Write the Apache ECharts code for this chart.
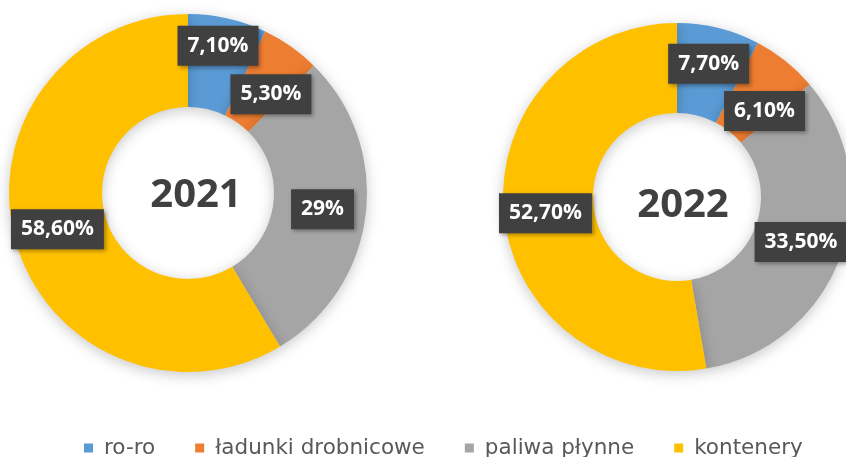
<!DOCTYPE html>
<html>
<head>
<meta charset="utf-8">
<script src="https://cdn.jsdelivr.net/npm/echarts@6/dist/echarts.min.js"></script>
<style>
html,body{margin:0;padding:0;background:#fff;}
#c{width:846px;height:457px;}
</style>
</head>
<body>
<div id="c"></div>
<script>
const categories = ['ro-ro', 'ładunki drobnicowe', 'paliwa płynne', 'kontenery'];
const colors = ['#5B9BD5', '#ED7D31', '#A5A5A5', '#FFC000'];
const years = ['2021', '2022'];
const values2021 = [7.1, 5.3, 29, 58.6];
const values2022 = [7.7, 6.1, 33.5, 52.7];

function fmt(v) {
  return (Math.round(v) === v ? String(v) : v.toFixed(2).replace('.', ',')) + '%';
}

function build(vals) {
  return categories.map((name, i) => ({ name: name, value: vals[i], itemStyle: { color: colors[i] } }));
}

const labelStyle = {
  show: true,
  position: 'inside',
  formatter: p => fmt(p.value),
  color: '#ffffff',
  fontFamily: 'Open Sans',
  fontWeight: 'bold',
  fontSize: 21,
  lineHeight: 22,
  backgroundColor: '#404040',
  padding: [9, 10, 9, 10],
  shadowColor: 'rgba(0,0,0,0.35)',
  shadowBlur: 4,
  shadowOffsetX: 2,
  shadowOffsetY: 2
};

// nudges for the two small adjacent slices so their boxes do not collide
function nudge(params) {
  const up = params.seriesIndex === 0 ? [-15, 12] : [-5, 17];
  if (params.dataIndex === 0) return { dy: up[0], hideOverlap: false };
  if (params.dataIndex === 1) return { dy: up[1], dx: 5, hideOverlap: false };
  if (params.dataIndex === 3) return { dy: params.seriesIndex === 1 ? 5 : 0, hideOverlap: false };
  return { hideOverlap: false };
}

const centerText = (txt, x, y) => ({
  type: 'text', x: x, y: y, z: 10,
  style: {
    text: txt, fontSize: 40, fontWeight: 'bold', fontFamily: 'Open Sans', fill: '#404040',
    align: 'center', verticalAlign: 'middle', textAlign: 'center', textVerticalAlign: 'middle'
  }
});

const chart = echarts.init(document.getElementById('c'), null, { renderer: 'canvas' });
chart.setOption({
  animation: false,
  backgroundColor: '#ffffff',
  legend: {
    data: categories,
    left: 79,
    top: 432,
    icon: 'rect',
    itemWidth: 9,
    itemHeight: 9,
    itemGap: 40,
    textStyle: { color: '#595959', fontSize: 21.5, fontFamily: 'DejaVu Sans', padding: [0, 0, 0, 6] }
  },
  graphic: [
    centerText(years[0], 196, 196),
    centerText(years[1], 683, 206)
  ],
  series: [
    {
      type: 'pie',
      center: [188, 193],
      radius: [86, 179],
      startAngle: 90,
      clockwise: true,
      avoidLabelOverlap: false,
      labelLine: { show: false },
      labelLayout: nudge,
      itemStyle: { shadowBlur: 14, shadowColor: 'rgba(0,0,0,0.22)', shadowOffsetY: 3 },
      label: labelStyle,
      data: build(values2021)
    },
    {
      type: 'pie',
      center: [677, 197],
      radius: [84, 174],
      startAngle: 90,
      clockwise: true,
      avoidLabelOverlap: false,
      labelLine: { show: false },
      labelLayout: nudge,
      itemStyle: { shadowBlur: 14, shadowColor: 'rgba(0,0,0,0.22)', shadowOffsetY: 3 },
      label: labelStyle,
      data: build(values2022)
    }
  ]
});
</script>
</body>
</html>
